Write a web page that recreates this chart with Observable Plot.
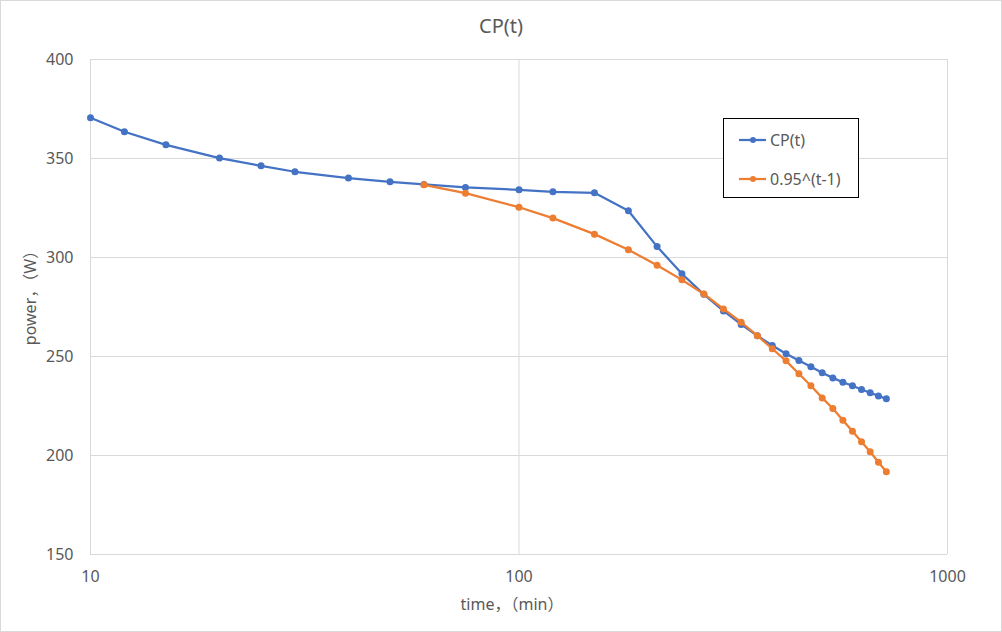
<!DOCTYPE html>
<html>
<head>
<meta charset="utf-8">
<script src="https://cdn.jsdelivr.net/npm/d3@7"></script>
<script src="https://cdn.jsdelivr.net/npm/@observablehq/plot@0.6"></script>
<style>
  html, body { margin: 0; padding: 0; background: #fff; }
  #wrap { position: relative; width: 1002px; height: 632px; overflow: hidden; background: #fff;
          font-family: "Noto Sans", "Noto Sans CJK SC", sans-serif; color: #595959; }
  #wrap svg.plot { position: absolute; left: 0; top: 0; }
  #frame { position: absolute; left: 0; top: 0; width: 1000px; height: 630px; border: 1px solid #d9d9d9; pointer-events: none; }
  #title { position: absolute; left: 0; width: 1002px; top: 12px; text-align: center; font-size: 20px; line-height: 28px; }
  #xlabel { position: absolute; left: 412px; width: 200px; top: 593px; text-align: center; font-size: 16px; line-height: 22px; }
  #ylabel { position: absolute; left: 30px; top: 294px; width: 200px; margin-left: -100px; margin-top: -11px;
            text-align: center; font-size: 16px; line-height: 22px; transform: rotate(-90deg); }
  #legend { position: absolute; left: 723px; top: 118px; width: 134px; height: 78px; border: 1px solid #000; background: #fff; }
  .item { position: absolute; left: 15px; height: 22px; display: flex; align-items: center; font-size: 16px; }
  .item svg { margin-right: 3px; }
</style>
</head>
<body>
<div id="wrap">
  <div id="title"></div>
  <div id="xlabel"></div>
  <div id="ylabel"></div>
  <div id="legend"></div>
  <div id="frame"></div>
</div>
<script>
// ---- data ----
const chartTitle = "CP(t)";
const xTitle = "time，（min）";
const yTitle = "power，（W）";

const cpName = "CP(t)";
const cpTime = [10, 12, 15, 20, 25, 30, 40, 50, 60, 75, 100, 120, 150, 180, 210, 240, 270, 300, 330, 360, 390, 420, 450, 480, 510, 540, 570, 600, 630, 660, 690, 720];
const cpPower = [370.6, 363.5, 356.9, 350.2, 346.3, 343.3, 340.1, 338.2, 336.9, 335.4, 334.2, 333.2, 332.7, 323.6, 305.5, 291.8, 281.4, 273.0, 266.2, 260.5, 255.6, 251.4, 248.0, 244.8, 241.8, 239.2, 237.0, 235.2, 233.3, 231.7, 230.1, 228.6];

const fitName = "0.95^(t-1)";
const fitTime = [60, 75, 100, 120, 150, 180, 210, 240, 270, 300, 330, 360, 390, 420, 450, 480, 510, 540, 570, 600, 630, 660, 690, 720];
const fitPower = [336.7, 332.5, 325.4, 319.9, 311.8, 303.9, 296.1, 288.7, 281.6, 274.0, 267.3, 260.5, 253.9, 247.8, 241.3, 235.2, 229.1, 223.7, 217.8, 212.3, 206.9, 201.9, 196.6, 191.8];

const xTicks = [10, 100, 1000];
const yTicks = [150, 200, 250, 300, 350, 400];

const cpColor = "#4472C4";
const fitColor = "#ED7D31";

// ---- tables ----
const cp = cpTime.map((t, i) => ({t, p: cpPower[i]}));
const fit = fitTime.map((t, i) => ({t, p: fitPower[i]}));

const chart = Plot.plot({
  width: 1002,
  height: 632,
  marginTop: 59,
  marginLeft: 90,
  marginRight: 55,
  marginBottom: 78,
  style: {fontFamily: '"Noto Sans", "Noto Sans CJK SC", sans-serif', fontSize: "16px", color: "#595959", background: "transparent", overflow: "visible"},
  x: {type: "log", domain: [10, 1000]},
  y: {domain: [150, 400]},
  marks: [
    Plot.ruleY(yTicks, {stroke: "#d9d9d9", strokeWidth: 1}),
    Plot.ruleX(xTicks, {stroke: "#d9d9d9", strokeWidth: 1}),
    Plot.axisX({ticks: xTicks, tickSize: 0, tickPadding: 16, tickFormat: d => String(d), label: null, fill: "#595959"}),
    Plot.axisY({ticks: yTicks, tickSize: 0, tickPadding: 17, tickFormat: d => String(d), label: null, fill: "#595959"}),
    Plot.line(cp, {x: "t", y: "p", stroke: cpColor, strokeWidth: 2.25}),
    Plot.dot(cp, {x: "t", y: "p", fill: cpColor, r: 3.5}),
    Plot.line(fit, {x: "t", y: "p", stroke: fitColor, strokeWidth: 2.25}),
    Plot.dot(fit, {x: "t", y: "p", fill: fitColor, r: 3.5})
  ]
});
chart.classList.add("plot");
document.getElementById("wrap").insertBefore(chart, document.getElementById("title"));

document.getElementById("title").textContent = chartTitle;
document.getElementById("xlabel").textContent = xTitle;
document.getElementById("ylabel").textContent = yTitle;

const legend = d3.select("#legend");
[[cpName, cpColor, 10], [fitName, fitColor, 49]].forEach(([name, color, top]) => {
  const item = legend.append("div").attr("class", "item").style("top", top + "px");
  const s = item.append("svg").attr("width", 28).attr("height", 10);
  s.append("line").attr("x1", 0).attr("x2", 27).attr("y1", 5).attr("y2", 5).attr("stroke", color).attr("stroke-width", 2.25);
  s.append("circle").attr("cx", 14).attr("cy", 5).attr("r", 3).attr("fill", color);
  item.append("span").text(name);
});
</script>
</body>
</html>
